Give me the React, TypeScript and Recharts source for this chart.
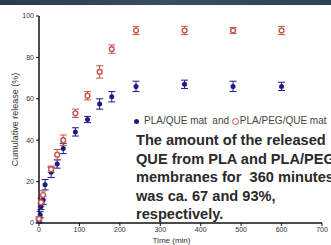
import React from 'react';
import {
  ScatterChart,
  Scatter,
  XAxis,
  YAxis,
  ErrorBar,
} from 'recharts';

// release data (time in min, cumulative %)
const plaTimes = [0, 3, 5, 10, 15, 30, 45, 60, 90, 120, 150, 180, 240, 360, 480, 600];
const plaValues = [1, 4, 8, 11, 18.5, 24.5, 28.5, 36, 44, 50, 57.5, 61, 66, 67, 66, 66];
const plaErrors = [1, 1.5, 1.5, 2, 2.5, 2.5, 2, 2.5, 2, 1.5, 2.5, 2.5, 2.5, 2, 2.5, 2];

const pegTimes = [0, 5, 10, 30, 45, 60, 90, 120, 150, 180, 240, 360, 480, 600];
const pegValues = [2, 10, 13.5, 26, 33, 40, 53, 61.5, 73, 84, 93, 93, 93, 93];
const pegErrors = [1, 2, 2, 1.5, 2.5, 2.5, 2, 2, 3, 2, 2, 2, 1.5, 2];

const xTicks = [0, 100, 200, 300, 400, 500, 600, 700];
const yTicks = [0, 20, 40, 60, 80, 100];

const annotationLines = [
  'The amount of the released',
  'QUE from PLA and PLA/PEG/QUE',
  'membranes for  360 minutes',
  'was ca. 67 and 93%,',
  'respectively.',
];

const plaData = plaTimes.map((t, i) => ({ t, v: plaValues[i], err: plaErrors[i] }));
const pegData = pegTimes.map((t, i) => ({ t, v: pegValues[i], err: pegErrors[i] }));

const BLUE = '#1c1a86';
const RED = '#c9524c';
const FONT = 'Arial, "Liberation Sans", sans-serif';

const BlueDot = (props: any) => (
  <circle cx={props.cx} cy={props.cy} r={2.5} fill={BLUE} />
);

const RedRing = (props: any) => (
  <circle cx={props.cx} cy={props.cy} r={2.4} fill="#fff" stroke={RED} strokeWidth={1.4} />
);

const tickStyle = { fontSize: 7, fill: '#333', fontFamily: FONT };

export default function App() {
  return (
    <div
      style={{
        position: 'absolute',
        left: 0,
        top: 0,
        width: 331,
        height: 245,
        overflow: 'hidden',
        background: '#fff',
        fontFamily: FONT,
      }}
    >
      <div
        style={{
          position: 'absolute',
          left: 0,
          top: 0,
          width: 331,
          height: 5,
          background: 'linear-gradient(90deg, #2a3a52, #3a4b64 50%, #2f4159)',
        }}
      />
      <ScatterChart
        width={331}
        height={245}
        margin={{ top: 16, right: 9, left: 0, bottom: 0 }}
      >
        <XAxis
          type="number"
          dataKey="t"
          domain={[0, 700]}
          ticks={xTicks}
          tick={tickStyle}
          tickSize={3}
          tickMargin={1}
          height={22}
          axisLine={{ stroke: '#111', strokeWidth: 1.5 }}
          tickLine={{ stroke: '#111' }}
          label={{
            value: 'Time (min)',
            position: 'insideBottom',
            offset: 2,
            dx: -9,
            style: { fontSize: 8, fill: '#333', fontFamily: FONT },
          }}
        />
        <YAxis
          type="number"
          dataKey="v"
          domain={[0, 100]}
          ticks={yTicks}
          tick={tickStyle}
          tickSize={3}
          tickMargin={2}
          width={39}
          axisLine={{ stroke: '#111', strokeWidth: 1.5 }}
          tickLine={{ stroke: '#111' }}
          label={{
            value: 'Cumulative release (%)',
            angle: -90,
            position: 'insideLeft',
            offset: 15,
            style: { fontSize: 9, fill: '#333', fontFamily: FONT, textAnchor: 'middle' },
          }}
        />
        <Scatter data={plaData} shape={BlueDot} isAnimationActive={false}>
          <ErrorBar dataKey="err" direction="y" width={3.5} stroke={BLUE} strokeWidth={1} />
        </Scatter>
        <Scatter data={pegData} shape={RedRing} isAnimationActive={false}>
          <ErrorBar dataKey="err" direction="y" width={3.5} stroke={RED} strokeWidth={1} />
        </Scatter>
      </ScatterChart>

      <div
        style={{
          position: 'absolute',
          left: 134,
          top: 115,
          whiteSpace: 'nowrap',
          fontSize: 10,
          color: '#444',
          lineHeight: '12px',
        }}
      >
        <span
          style={{
            display: 'inline-block',
            width: 5,
            height: 5,
            borderRadius: '50%',
            background: BLUE,
            marginRight: 5,
            verticalAlign: 'middle',
          }}
        />
        <span style={{ whiteSpace: 'pre' }}>PLA/QUE mat  and </span>
        <span
          style={{
            display: 'inline-block',
            width: 5,
            height: 5,
            borderRadius: '50%',
            border: `1.7px solid ${RED}`,
            marginRight: 1,
            verticalAlign: 'middle',
          }}
        />
        <span>PLA/PEG/QUE mat</span>
      </div>

      <div
        style={{
          position: 'absolute',
          left: 136,
          top: 131,
          whiteSpace: 'nowrap',
          fontSize: 14.6,
          fontWeight: 'bold',
          color: '#2a2a2a',
          lineHeight: '18.6px',
        }}
      >
        {annotationLines.map((line) => (
          <div key={line} style={{ whiteSpace: 'pre' }}>{line}</div>
        ))}
      </div>
    </div>
  );
}
